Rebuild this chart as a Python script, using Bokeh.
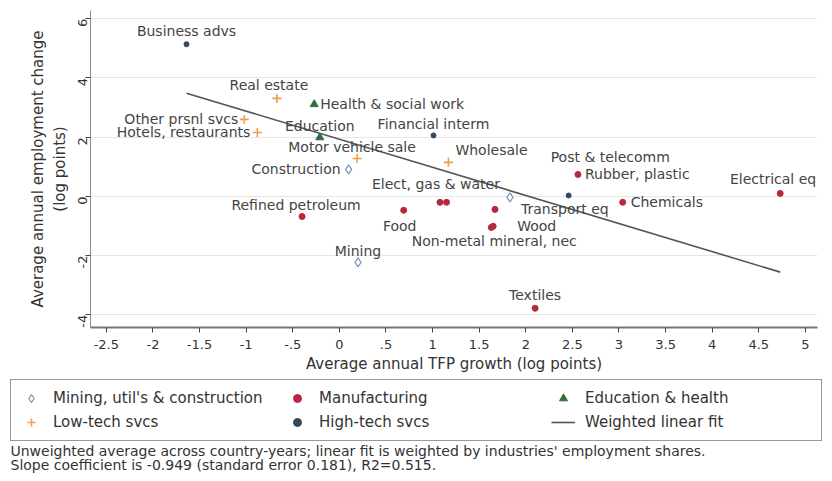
from bokeh.plotting import figure
from bokeh.models import (ColumnDataSource, Legend, LegendItem, FixedTicker,
                          Range1d, LabelSet)
from bokeh.core.properties import value
from bokeh.embed import file_html
from bokeh.resources import INLINE
import math

# ---------------- data ----------------
industries = ["Business advs", "Real estate", "Health & social work", "Other prsnl svcs",
              "Hotels, restaurants", "Education", "Financial interm", "Motor vehicle sale",
              "Construction", "Wholesale", "Rubber, plastic", "Post & telecomm",
              "Elect, gas & water", "", "", "Food", "Transport eq", "Wood",
              "Non-metal mineral, nec", "Chemicals", "Electrical eq", "Refined petroleum",
              "Mining", "Textiles"]
tfp_growth = [-1.64, -0.67, -0.27, -1.02, -0.88, -0.21, 1.01, 0.19,
              0.10, 1.17, 2.56, 2.46, 1.83, 1.08, 1.15, 0.69, 1.67, 1.65,
              1.63, 3.04, 4.73, -0.40, 0.20, 2.10]
emp_change = [5.14, 3.31, 3.11, 2.60, 2.16, 1.99, 2.06, 1.28,
              0.91, 1.15, 0.74, 0.03, -0.03, -0.20, -0.20, -0.47, -0.44, -1.01,
              -1.05, -0.20, 0.10, -0.68, -2.23, -3.78]
sector = ["HT", "LT", "EH", "LT", "LT", "EH", "HT", "LT",
          "MUC", "LT", "MFG", "HT", "MUC", "MFG", "MFG", "MFG", "MFG", "MFG",
          "MFG", "MFG", "MFG", "MFG", "MUC", "MFG"]
fit_slope = -0.949
fit_intercept = 1.93

x_ticks = [-2.5, -2, -1.5, -1, -0.5, 0, 0.5, 1, 1.5, 2, 2.5, 3, 3.5, 4, 4.5, 5]
x_tick_labels = ["-2.5", "-2", "-1.5", "-1", "-.5", "0", ".5", "1", "1.5", "2", "2.5",
                 "3", "3.5", "4", "4.5", "5"]
y_ticks = [-4, -2, 0, 2, 4, 6]
y_tick_labels = ["-4", "-2", "0", "2", "4", "6"]

group_order = ["MUC", "MFG", "EH", "LT", "HT"]
group_names = {"MUC": "Mining, util's & construction", "MFG": "Manufacturing",
               "EH": "Education & health", "LT": "Low-tech svcs", "HT": "High-tech svcs"}
fit_name = "Weighted linear fit"
notes = ["Unweighted average across country-years; linear fit is weighted by industries' employment shares.",
         "Slope coefficient is -0.949 (standard error 0.181), R2=0.515."]

# label placement (pixel offsets, screen y downward) and alignment
lab_dx = [0, -8, 6, -6, -7, 0, 0, -5, -8, 7, 7, -18, -10, 0, 0, -4, 26, 24, 3, 8, 36, -6, 0, 0]
lab_dy = [-13, -13, 0, 0, 0, -11, -11, -11, 0, -12, 0, -38, -13, 0, 0, 16, 0, 0, 14, 0, -14, -12, -11, -13]
lab_align = ["center", "center", "left", "right", "right", "center", "center", "center",
             "right", "left", "left", "left", "right", "center", "center", "center", "left", "left",
             "center", "left", "right", "center", "center", "center"]

# --------------- styles / geometry ---------------
styles = {
    "MUC": dict(marker="diamond", size=9, fill_color="white", line_color="#7d98c0", line_width=1.3),
    "MFG": dict(marker="circle", size=6, fill_color="#b5283f", line_color="#b5283f", line_width=1),
    "EH": dict(marker="triangle", size=8, fill_color="#2f6f3f", line_color="#2f6f3f", line_width=1),
    "LT": dict(marker="cross", size=9, fill_color="#f39c4a", line_color="#f39c4a", line_width=1.6),
    "HT": dict(marker="circle", size=5, fill_color="#34495e", line_color="#34495e", line_width=1),
}
fit_style = dict(line_color="#555555", line_width=1.6)
FONT = "DejaVu Sans"
W = 832
H_TOP = 376
H_BOT = 481 - H_TOP

p = figure(width=W, height=H_TOP, output_backend="svg", toolbar_location=None,
           x_range=Range1d(-2.67, 5.13), y_range=Range1d(-4.43, 6.28),
           min_border_left=90, min_border_right=15, min_border_top=10, min_border_bottom=49,
           background_fill_color="white", border_fill_color="white")
p.outline_line_color = None

for g in group_order:
    xs = [x for x, s in zip(tfp_growth, sector) if s == g]
    ys = [y for y, s in zip(emp_change, sector) if s == g]
    p.scatter(xs, ys, **styles[g])

fit_x = [min(tfp_growth), max(tfp_growth)]
fit_y = [fit_intercept + fit_slope * v for v in fit_x]
p.line(fit_x, fit_y, **fit_style)

for al in ["left", "right", "center"]:
    idx = [i for i in range(len(industries)) if lab_align[i] == al and industries[i]]
    src = ColumnDataSource(dict(
        x=[tfp_growth[i] for i in idx], y=[emp_change[i] for i in idx],
        t=[industries[i] for i in idx], dx=[lab_dx[i] for i in idx],
        dy=[-lab_dy[i] for i in idx]))
    p.add_layout(LabelSet(x="x", y="y", text="t", source=src, x_offset="dx", y_offset="dy",
                          text_align=al, text_baseline="middle", text_font=value(FONT),
                          text_font_size=value("14px"), text_color=value("#444444")))

# axes
p.xaxis.ticker = FixedTicker(ticks=x_ticks)
p.xaxis.major_label_overrides = dict(zip(x_ticks, x_tick_labels))
p.yaxis.ticker = FixedTicker(ticks=y_ticks)
p.yaxis.major_label_overrides = dict(zip(y_ticks, y_tick_labels))
p.yaxis.major_label_orientation = math.pi / 2
p.xaxis.axis_label = "Average annual TFP growth (log points)"
p.yaxis.axis_label = "Average annual employment change\n(log points)"
for ax in (p.xaxis, p.yaxis):
    ax.axis_label_text_font = FONT
    ax.axis_label_text_font_size = "15px"
    ax.axis_label_text_font_style = "normal"
    ax.axis_label_text_color = "#333333"
    ax.major_label_text_font = FONT
    ax.major_label_text_font_size = "13px"
    ax.major_label_text_color = "#333333"
    ax.major_tick_in = 0
    ax.major_tick_out = 5
    ax.minor_tick_in = 0
    ax.minor_tick_out = 0
    ax.major_tick_line_color = "#444444"
    ax.axis_label_standoff = 2
    ax.major_label_standoff = 3
p.xaxis.major_label_standoff = 7
p.xaxis.axis_label_standoff = 3
p.xaxis.axis_line_color = "#777777"
p.xaxis.axis_line_width = 2
p.yaxis.axis_line_color = "#888888"
p.yaxis.axis_line_width = 1
p.xgrid.grid_line_color = None
p.ygrid.grid_line_color = "#e6e6e6"
p.ygrid.grid_line_width = 1

# --------------- legend + notes strip ---------------
q = figure(width=W, height=H_BOT, output_backend="svg", toolbar_location=None,
           x_range=Range1d(0, W), y_range=Range1d(H_BOT, 0),
           x_axis_location=None, y_axis_location=None, min_border=0,
           background_fill_color="white", border_fill_color="white")
q.outline_line_color = None
q.grid.grid_line_color = None

# legend key glyphs (one hidden sample each, outside the visible strip)
key = {g: q.scatter([-100], [-100], **styles[g]) for g in group_order}
key_fit = q.line([-120, -100], [-100, -100], **fit_style)
items = [
    LegendItem(label=group_names["MUC"], renderers=[key["MUC"]]),
    LegendItem(label=group_names["MFG"], renderers=[key["MFG"]]),
    LegendItem(label=group_names["EH"], renderers=[key["EH"]]),
    LegendItem(label=group_names["LT"], renderers=[key["LT"]]),
    LegendItem(label=group_names["HT"], renderers=[key["HT"]]),
    LegendItem(label=fit_name, renderers=[key_fit]),
]
legend = Legend(items=items, orientation="horizontal", ncols=3,
                location=(10, H_BOT - 65),
                label_text_font=FONT, label_text_font_size="15px", label_text_color="#333333",
                glyph_width=24, glyph_height=20, label_standoff=10, label_width=228,
                label_height=20, spacing=4, padding=8, margin=0,
                border_line_color="#333333", border_line_width=1,
                background_fill_color="white", click_policy="none")
q.add_layout(legend)

q.text(x=[10, 10], y=[74, 88], text=notes, text_font=value(FONT), text_font_size="14px",
       text_color="#333333", text_baseline="middle", text_align="left")

open("out.html", "w").write(file_html([p, q], INLINE))
